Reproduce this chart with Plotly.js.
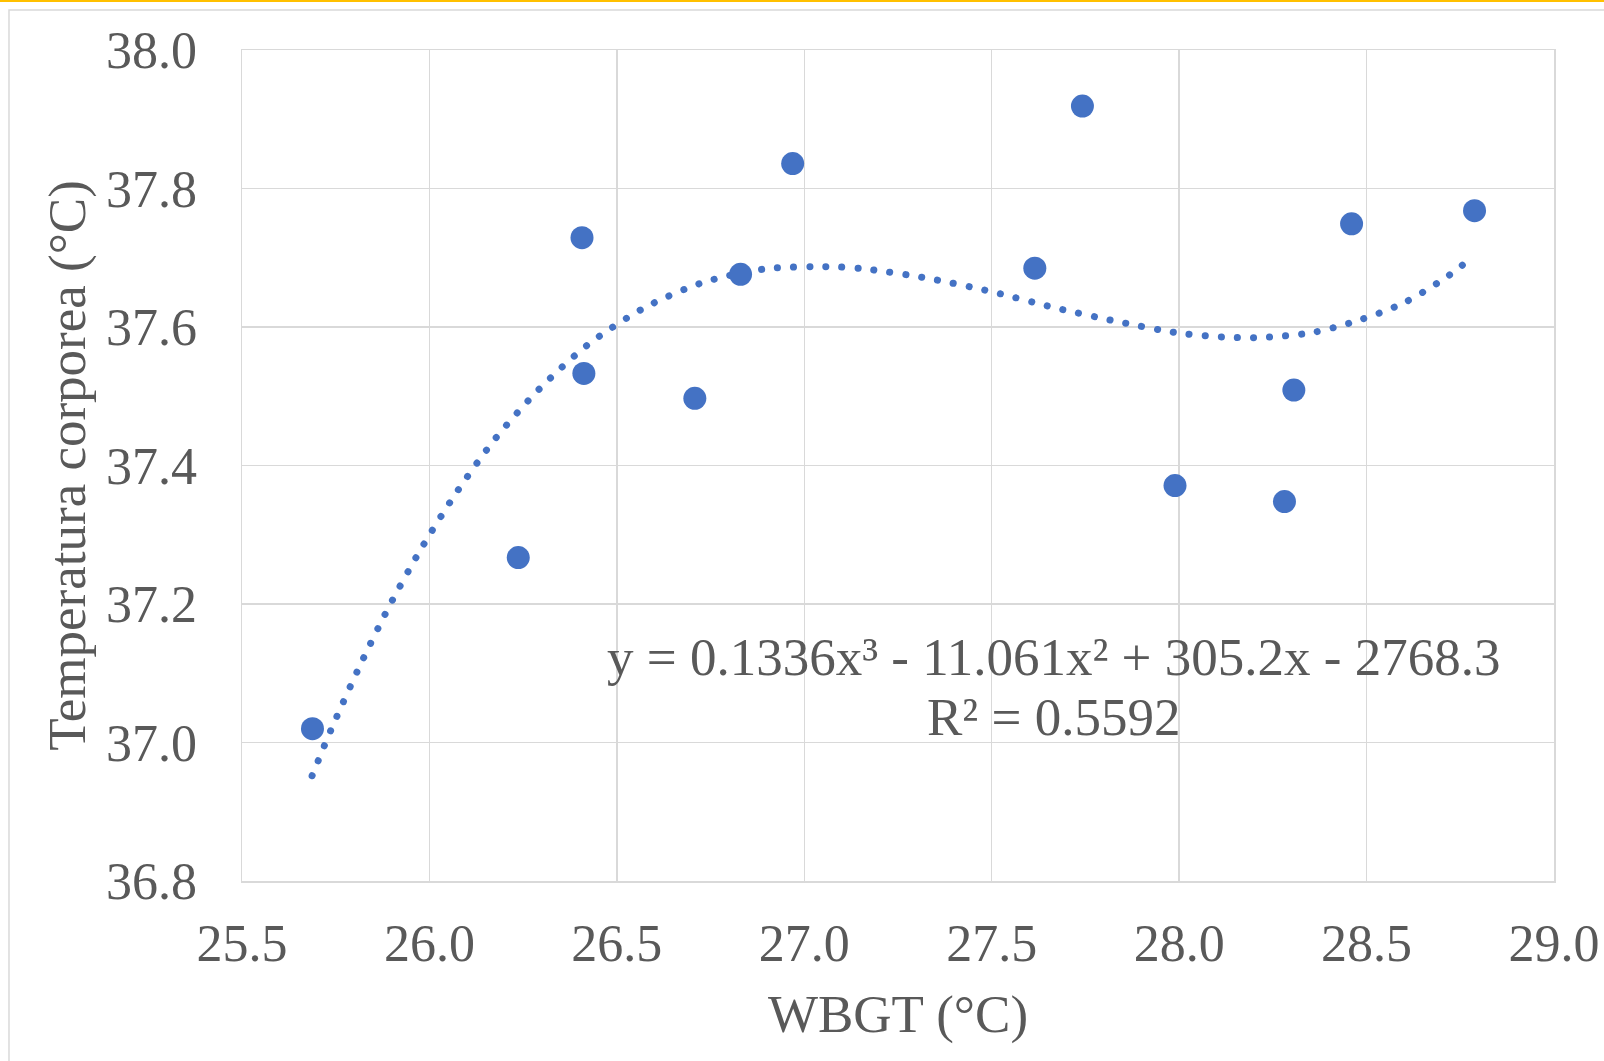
<!DOCTYPE html>
<html>
<head>
<meta charset="utf-8">
<script src="https://cdn.plot.ly/plotly-3.0.1.min.js"></script>
<style>
  html, body { margin: 0; padding: 0; background: #fff; }
  #chart { width: 1604px; height: 1061px; }
  .scatterlayer .trace:first-child .js-line { stroke-linecap: round !important; }
</style>
</head>
<body>
<div id="chart"></div>
<script>
// Observed data points
const wbgt = [25.688, 26.237, 26.407, 26.412, 26.708, 26.830, 26.969, 27.615, 27.742, 27.989, 28.281, 28.306, 28.460, 28.788];
const tempCorporea = [37.020, 37.267, 37.729, 37.533, 37.497, 37.676, 37.836, 37.685, 37.919, 37.371, 37.348, 37.509, 37.749, 37.768];

// Polynomial trend line (order 3)
const trendX = [25.687, 25.738, 25.812, 25.891, 25.977, 26.072, 26.176, 26.294, 26.424, 26.571, 26.728, 26.897, 27.073, 27.161, 27.333, 27.500, 27.667, 27.834, 28.003, 28.136, 28.225, 28.356, 28.481, 28.600, 28.713, 28.787];
const trendY = [36.952, 37.019, 37.108, 37.195, 37.279, 37.361, 37.439, 37.511, 37.575, 37.627, 37.664, 37.684, 37.687, 37.684, 37.670, 37.651, 37.628, 37.608, 37.591, 37.585, 37.585, 37.592, 37.610, 37.635, 37.672, 37.703];

const equationText = 'y = 0.1336x³ - 11.061x² + 305.2x - 2768.3';
const r2Text = 'R² = 0.5592';
const xTitle = 'WBGT (°C)';
const yTitle = 'Temperatura corporea (°C)';

const serif = '"Liberation Serif", "Times New Roman", serif';
const grey = '#595959';
const blue = '#4472C4';
const gridColor = '#d9d9d9';

const traces = [
  {
    x: trendX, y: trendY, type: 'scatter', mode: 'lines',
    line: { color: blue, width: 7, dash: '0.1px,16px', shape: 'spline', smoothing: 0.8 },
    hoverinfo: 'skip', showlegend: false
  },
  {
    x: wbgt, y: tempCorporea, type: 'scatter', mode: 'markers',
    marker: { color: blue, size: 23 },
    showlegend: false
  }
];

const layout = {
  width: 1604, height: 1061,
  paper_bgcolor: '#ffffff', plot_bgcolor: '#ffffff',
  margin: { l: 242, r: 50, t: 50, b: 180 },
  showlegend: false,
  font: { family: serif, color: grey, size: 52 },
  xaxis: {
    range: [25.5, 29.0], dtick: 0.5, tick0: 25.5, tickformat: '.1f',
    showgrid: true, gridcolor: gridColor, gridwidth: 1.5,
    zeroline: false, showline: true, mirror: true, linecolor: gridColor, linewidth: 1.5,
    ticks: '', ticklabelstandoff: 16,
    tickfont: { family: serif, size: 52, color: grey },
    title: { text: xTitle, font: { family: serif, size: 53, color: grey }, standoff: 24 },
    automargin: false
  },
  yaxis: {
    range: [36.8, 38.0], dtick: 0.2, tick0: 36.8, tickformat: '.1f',
    showgrid: true, gridcolor: gridColor, gridwidth: 1.5,
    zeroline: false, showline: true, mirror: true, linecolor: gridColor, linewidth: 1.5,
    ticks: '', ticklabelstandoff: 33,
    tickfont: { family: serif, size: 52, color: grey },
    title: { text: yTitle, font: { family: serif, size: 53, color: grey }, standoff: 3 },
    automargin: false
  },
  shapes: [
    { type: 'rect', xref: 'paper', yref: 'paper', x0: -0.1776, x1: 1.06, y0: -0.25, y1: 1.0481,
      line: { color: gridColor, width: 1.5 }, fillcolor: 'rgba(0,0,0,0)', layer: 'below' },
    { type: 'rect', xref: 'paper', yref: 'paper', x0: -0.2, x1: 1.1, y0: 1.0578, y1: 1.08,
      line: { width: 0 }, fillcolor: '#FFC000', layer: 'above' }
  ],
  annotations: [
    { xref: 'paper', yref: 'paper', x: 0.6189, y: 0.2696, xanchor: 'center', yanchor: 'middle',
      text: equationText, showarrow: false, font: { family: serif, size: 53, color: grey } },
    { xref: 'paper', yref: 'paper', x: 0.6189, y: 0.1974, xanchor: 'center', yanchor: 'middle',
      text: r2Text, showarrow: false, font: { family: serif, size: 53, color: grey } }
  ]
};

Plotly.newPlot('chart', traces, layout, { displayModeBar: false, staticPlot: true });
</script>
</body>
</html>
